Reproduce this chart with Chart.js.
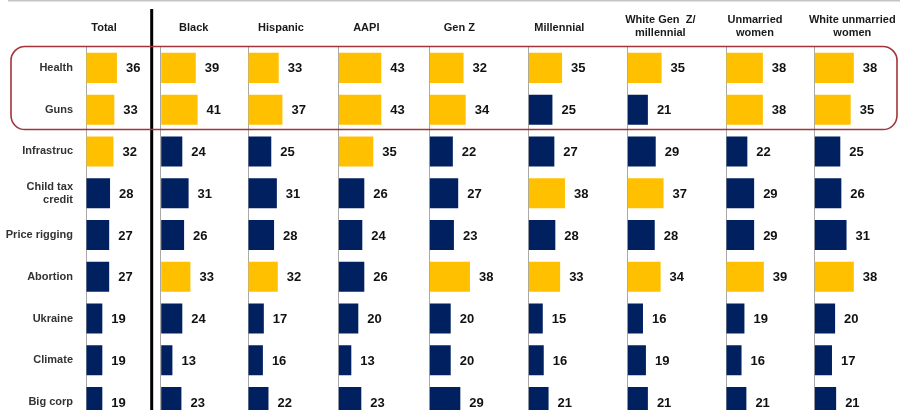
<!DOCTYPE html>
<html>
<head>
<meta charset="utf-8">
<script src="https://cdn.jsdelivr.net/npm/chart.js@4.4.0/dist/chart.umd.min.js"></script>
<style>
  html, body { margin: 0; padding: 0; background: #fff; overflow: hidden; }
  #wrap { position: relative; width: 900px; height: 423px; }
</style>
</head>
<body>
<div id="wrap"><canvas id="chart-issues"></canvas></div>
<script>
const issues = ["Health", "Guns", "Infrastruc", ["Child tax", "credit"], "Price rigging", "Abortion", "Ukraine", "Climate", "Big corp"];
const groups = ["Total", "Black", "Hispanic", "AAPI", "Gen Z", "Millennial", ["White Gen  Z/", "millennial"], ["Unmarried", "women"], ["White unmarried", "women"]];

const total = [36, 33, 32, 28, 27, 27, 19, 19, 19];
const black = [39, 41, 24, 31, 26, 33, 24, 13, 23];
const hispanic = [33, 37, 25, 31, 28, 32, 17, 16, 22];
const aapi = [43, 43, 35, 26, 24, 26, 20, 13, 23];
const genZ = [32, 34, 22, 27, 23, 38, 20, 20, 29];
const millennial = [35, 25, 27, 38, 28, 33, 15, 16, 21];
const whiteGenZMillennial = [35, 21, 29, 37, 28, 34, 16, 19, 21];
const unmarriedWomen = [38, 38, 22, 29, 29, 39, 19, 16, 21];
const whiteUnmarriedWomen = [38, 35, 25, 26, 31, 38, 20, 17, 21];

const series = [total, black, hispanic, aapi, genZ, millennial, whiteGenZMillennial, unmarriedWomen, whiteUnmarriedWomen];

// panel layout: share of the plot width, axis range, header offset from panel edge
const panelWidths = [74.7, 87.3, 90.3, 91, 99, 99, 98.7, 88.3, 85.7];
const panelMax = [87, 97, 97, 91, 92.5, 102.6, 100.7, 91, 82.4];
const headerShift = [18, 33, 33, 28, 30, 31, 33, 29, 38];

const GOLD = "#ffc000";
const NAVY = "#002060";
const FONT = "'Liberation Sans', Arial, sans-serif";

Chart.defaults.font.family = FONT;

// top three issues in each group get the gold fill
function topThreeColors(values) {
  const cut = [...values].sort((a, b) => b - a)[2];
  return values.map((v) => (v >= cut ? GOLD : NAVY));
}

const scales = {
  y: {
    type: "category",
    offset: true,
    afterFit: (s) => {
      s.width = 86;
      // rows run to the bottom edge, no room kept for label overhang
      s.paddingTop = 0;
      s.paddingBottom = 0;
    },
    grid: { display: false, drawTicks: false },
    border: { display: false },
    ticks: { color: "#333", font: { size: 11, weight: "bold" }, padding: 13 },
  },
};
groups.forEach((g, i) => {
  scales["x" + i] = {
    type: "linear",
    axis: "x",
    position: "bottom",
    stack: "panels",
    stackWeight: panelWidths[i],
    min: 0,
    max: panelMax[i],
    afterBuildTicks: (axis) => { axis.ticks = [{ value: 0 }]; },
    afterFit: (s) => { s.height = 0; },
    ticks: { display: false },
    grid: { color: "#a9a9a9", lineWidth: 1, drawTicks: false },
    border: { display: false },
  };
});

const valueLabels = {
  id: "valueLabels",
  afterDatasetsDraw(chart) {
    const { ctx } = chart;
    ctx.save();
    ctx.font = "bold 13px " + FONT;
    ctx.fillStyle = "#111";
    ctx.textAlign = "left";
    ctx.textBaseline = "middle";
    chart.data.datasets.forEach((ds, i) => {
      chart.getDatasetMeta(i).data.forEach((bar, j) => {
        ctx.fillText(String(ds.data[j]), bar.x + 9, bar.y + 1);
      });
    });
    ctx.restore();
  },
};

const decorations = {
  id: "decorations",
  afterDraw(chart) {
    const { ctx, chartArea, scales } = chart;
    const y = scales.y;
    const band = y.height / issues.length;
    ctx.save();

    // thin rule along the top
    ctx.fillStyle = "#c4c4c4";
    ctx.fillRect(8, 0, chart.width - 8, 1.5);

    // divider after the Total column
    ctx.strokeStyle = "#000";
    ctx.lineWidth = 3;
    ctx.beginPath();
    const dx = scales.x1.left - 9;
    ctx.moveTo(dx, 9);
    ctx.lineTo(dx, chart.height);
    ctx.stroke();

    // rounded box around Health and Guns
    const l = 11, r = chartArea.right - 3;
    const t = y.getPixelForValue(0) - band / 2 - 0.5;
    const b = y.getPixelForValue(1) + band / 2 - 1;
    const rad = 14;
    ctx.strokeStyle = "#a3353a";
    ctx.lineWidth = 1.6;
    ctx.beginPath();
    ctx.moveTo(l + rad, t);
    ctx.arcTo(r, t, r, b, rad);
    ctx.arcTo(r, b, l, b, rad);
    ctx.arcTo(l, b, l, t, rad);
    ctx.arcTo(l, t, r, t, rad);
    ctx.closePath();
    ctx.stroke();

    // column headers
    ctx.font = "bold 11px " + FONT;
    ctx.fillStyle = "#1a1a1a";
    ctx.textAlign = "center";
    ctx.textBaseline = "middle";
    groups.forEach((g, i) => {
      const lines = Array.isArray(g) ? g : [g];
      const cx = scales["x" + i].left + headerShift[i];
      const y0 = lines.length > 1 ? 19.5 : 28;
      lines.forEach((line, k) => ctx.fillText(line, cx, y0 + k * 13));
    });
    ctx.restore();
  },
};

new Chart(document.getElementById("chart-issues"), {
  type: "bar",
  data: {
    labels: issues,
    datasets: series.map((values, i) => ({
      label: Array.isArray(groups[i]) ? groups[i].join(" ") : groups[i],
      data: values,
      xAxisID: "x" + i,
      yAxisID: "y",
      backgroundColor: topThreeColors(values),
      grouped: false,
      barPercentage: 0.72,
      categoryPercentage: 1,
    })),
  },
  options: {
    indexAxis: "y",
    responsive: true,
    maintainAspectRatio: false,
    animation: false,
    layout: { padding: { top: 47, right: 0, bottom: 0, left: 0 } },
    scales,
    plugins: {
      legend: { display: false },
      tooltip: { enabled: false },
    },
  },
  plugins: [valueLabels, decorations],
});
</script>
</body>
</html>
